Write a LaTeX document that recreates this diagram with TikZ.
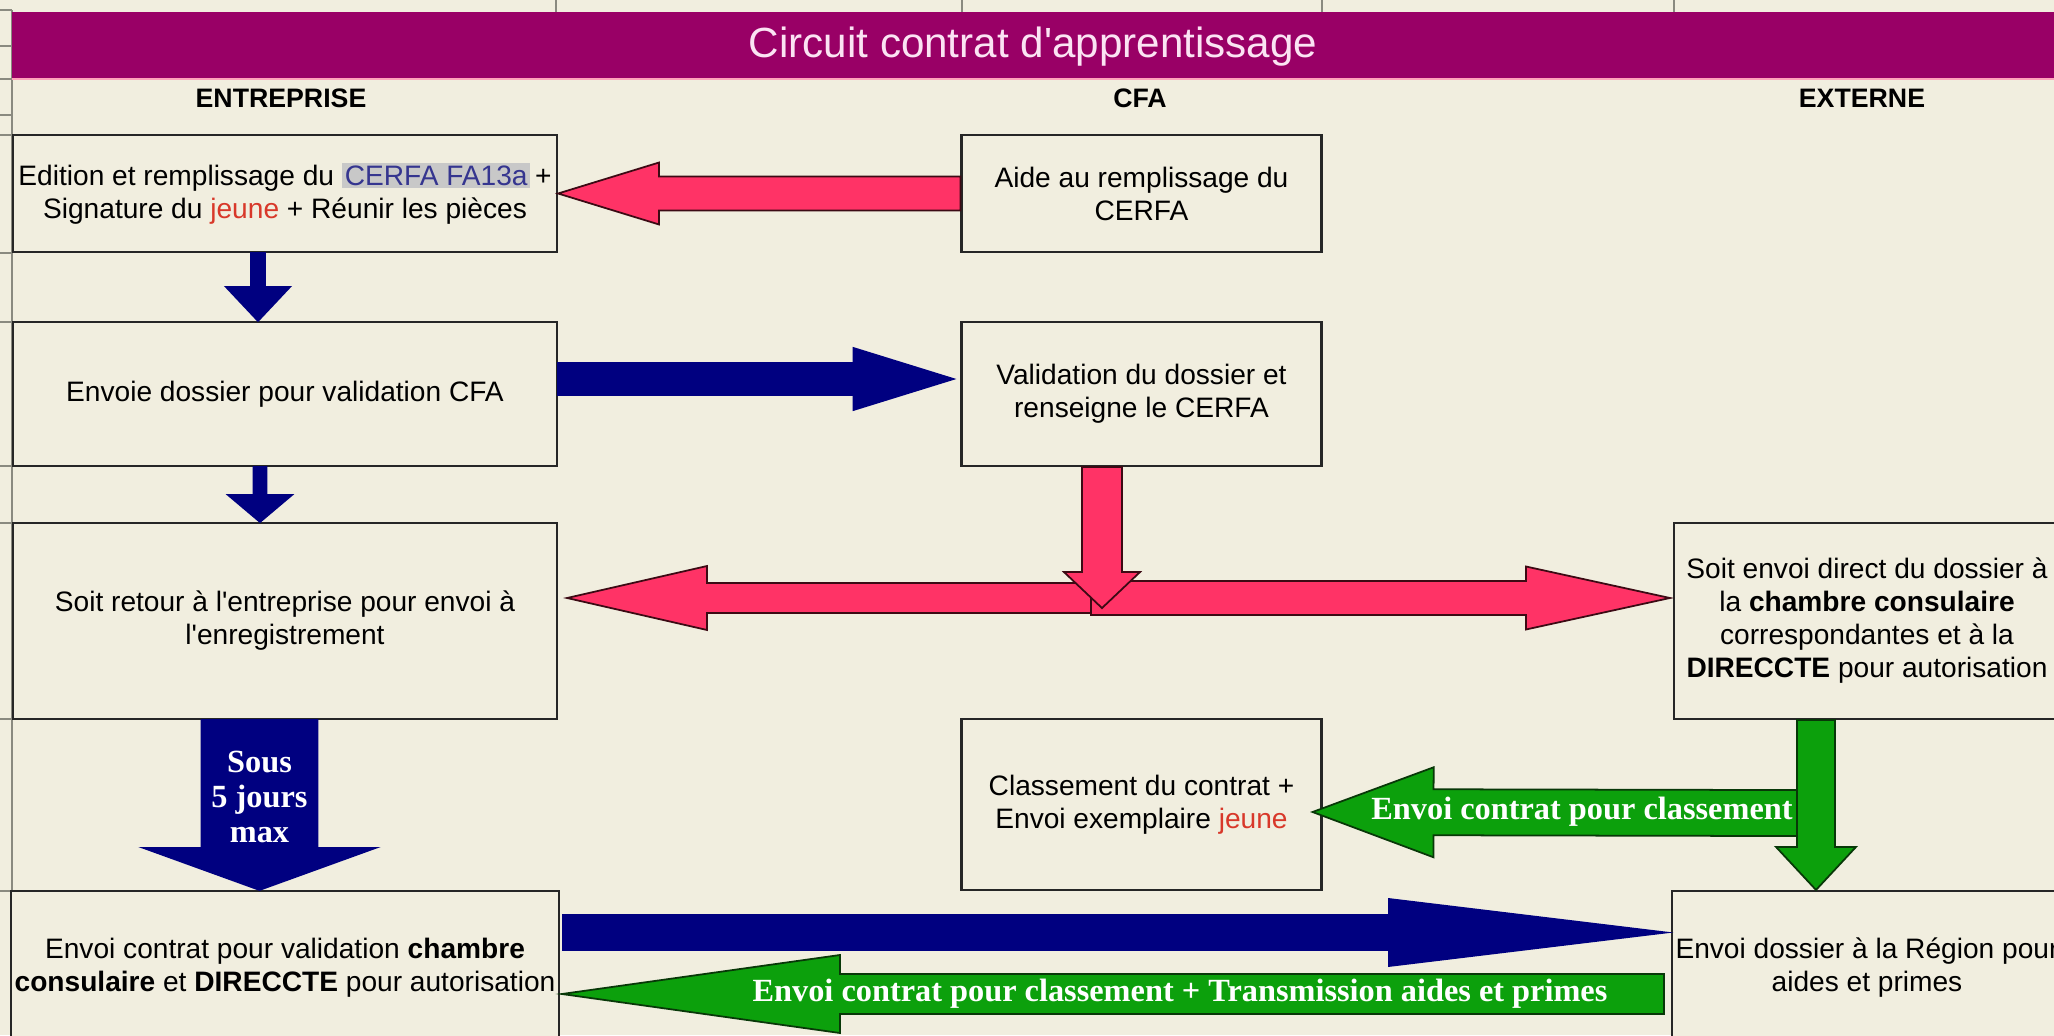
\documentclass[tikz,border=0pt]{standalone}
\usepackage{fontspec}
\setmainfont{Liberation Sans}
\newfontfamily\arrowfont{Liberation Serif}
\usetikzlibrary{calc}
\setlength{\fboxsep}{0.8pt}
\definecolor{sheet}{HTML}{F1EEDF}
\definecolor{plum}{HTML}{990066}
\definecolor{titletext}{HTML}{FBE3F3}
\definecolor{rose}{HTML}{FF3366}
\definecolor{roseline}{HTML}{3C0A14}
\definecolor{navy}{HTML}{000080}
\definecolor{leaf}{HTML}{0CA00C}
\definecolor{leafline}{HTML}{083808}
\definecolor{jeune}{HTML}{D8382A}
\definecolor{cerfa}{HTML}{35358F}
\definecolor{cerfabg}{HTML}{C8C8C8}
\definecolor{gridline}{HTML}{8A8A80}
% block arrow: style, start, tip, shaft half width : head half width : head length
\def\blockarrow[#1](#2)(#3)(#4:#5:#6){\coordinate (bn) at ($(#3)!#6!(#2)$);
	\filldraw[#1] ($(#2)!#4!90:(#3)$) -- ($(bn)!#4!90:(#3)$) -- ($(bn)!#5!90:(#3)$) -- (#3)
	-- ($(bn)!#5!-90:(#3)$) -- ($(bn)!#4!-90:(#3)$) -- ($(#2)!#4!-90:(#3)$) -- cycle;}

\begin{document}
\begin{tikzpicture}[
	box/.style={draw=black!85, fill=sheet, line width=0.6pt, align=center, inner sep=1pt, font=\fontsize{8}{9.4}\selectfont},
	colhead/.style={font=\bfseries\fontsize{7.6}{9}\selectfont},
	pinkarrow/.style={fill=rose, draw=roseline, line width=0.5pt},
	navyarrow/.style={fill=navy, draw=navy, line width=0.5pt},
	greenarrow/.style={fill=leaf, draw=leafline, line width=0.5pt},
	arrowtext/.style={text=white, font=\arrowfont\bfseries\fontsize{9.2}{10}\selectfont, align=center, inner sep=0pt}]
			%%%%% START %%%%%
			
			\useasboundingbox (0, 0) rectangle (20.54, 10.35);
			\fill[sheet] (0, 0) rectangle (20.54, 10.35);
			
			% sheet grid marks
			\draw[gridline, line width=0.5pt] (0.12, 0) -- (0.12, 10.25);
			\foreach \y in {10.25, 9.89, 9.56, 9.20, 9.00, 7.82, 7.13, 5.69, 5.12, 3.16, 1.44}
				\draw[gridline, line width=0.5pt] (0, \y) -- (0.12, \y);
			\foreach \x in {5.56, 9.62, 13.22, 16.74}
				\draw[gridline, line width=0.5pt] (\x, 10.35) -- (\x, 10.23);
			
			% title bar
			\fill[plum] (0.12, 10.23) rectangle (20.6, 9.56);
			\draw[rose!45, line width=0.8pt] (0.12, 9.56) -- (20.6, 9.56);
			\node[text=titletext, font=\fontsize{12}{14}\selectfont] (title) at (10.33, 9.88) {Circuit contrat d\textquotesingle apprentissage};
			
			\node[colhead] (hentreprise) at (2.81, 9.37) {ENTREPRISE};
			\node[colhead] (hcfa) at (11.40, 9.37) {CFA};
			\node[colhead] (hexterne) at (18.62, 9.37) {EXTERNE};
			
			% boxes
			\node[box, minimum width=5.44cm, minimum height=1.17cm] (a1) at (2.85, 8.415)
				{Edition et remplissage du \colorbox{cerfabg}{\textcolor{cerfa}{CERFA FA13a}}\,+\\Signature du \textcolor{jeune}{jeune} + Réunir les pièces};
			\node[box, minimum width=3.6cm, minimum height=1.17cm] (c1) at (11.415, 8.415)
				{Aide au remplissage du\\CERFA};
			\node[box, minimum width=5.44cm, minimum height=1.44cm] (a2) at (2.85, 6.41)
				{Envoie dossier pour validation CFA};
			\node[box, minimum width=3.6cm, minimum height=1.44cm] (c2) at (11.415, 6.41)
				{Validation du dossier et\\renseigne le CERFA};
			\node[box, minimum width=5.44cm, minimum height=1.96cm] (a3) at (2.85, 4.14)
				{Soit retour à l\textquotesingle entreprise pour envoi à\\l\textquotesingle enregistrement};
			\node[box, minimum width=3.86cm, minimum height=1.96cm] (e3) at (18.67, 4.14)
				{Soit envoi direct du dossier à\\la \textbf{chambre consulaire}\\correspondantes et à la\\\textbf{DIRECCTE} pour autorisation};
			\node[box, minimum width=3.6cm, minimum height=1.71cm] (c4) at (11.415, 2.305)
				{Classement du contrat +\\Envoi exemplaire \textcolor{jeune}{jeune}};
			\node[box, minimum width=5.44cm, minimum height=1.54cm] (a5) at (2.85, 0.67)
				{Envoi contrat pour validation \textbf{chambre}\\\textbf{consulaire} et \textbf{DIRECCTE} pour autorisation};
			\node[box, minimum width=3.86cm, minimum height=1.54cm] (e5) at (18.67, 0.67)
				{Envoi dossier à la Région pour\\aides et primes};
			
			% arrow ends
			\coordinate (v1a) at ($(a1.south)+(-0.27,0)$);
			\coordinate (v1b) at ($(a2.north)+(-0.27,0)$);
			\coordinate (h2a) at ($(a2.east)+(0,0.15)$);
			\coordinate (h2b) at ($(c2.west)+(-0.07,0.15)$);
			\coordinate (v2a) at ($(a2.south)+(-0.25,0)$);
			\coordinate (v2b) at ($(a3.north)+(-0.25,0)$);
			\coordinate (hub) at (10.91, 4.37);
			\coordinate (pl) at ($(a3.east)+(0.09,0.23)$);
			\coordinate (pr) at ($(e3.west)+(-0.03,0.23)$);
			\coordinate (v3a) at ($(c2.south)+(-0.395,0)$);
			\coordinate (v3b) at ($(v3a)+(0,-1.41)$);
			\coordinate (v4a) at ($(a3.south)+(-0.255,0)$);
			\coordinate (v4b) at ($(a5.north)+(-0.255,0)$);
			\coordinate (v5a) at ($(e3.south)+(-0.51,0)$);
			\coordinate (v5b) at ($(e5.north)+(-0.51,0)$);
			\coordinate (gjoin) at ($(v5a)+(-0.19,-0.93)$);
			\coordinate (c4g) at ($(c4.east)+(-0.1,-0.075)$);
			\coordinate (h5a) at ($(a5.east)+(0.03,0.355)$);
			\coordinate (h5b) at ($(e5.west)+(-0.05,0.355)$);
			\coordinate (h6a) at ($(e5.west)+(-0.07,-0.26)$);
			\coordinate (h6b) at ($(a5.east)+(0.02,-0.26)$);
			
			% arrows
			\blockarrow[pinkarrow](c1.west)(a1.east)(0.17cm:0.31cm:1.01cm)
			\blockarrow[navyarrow](v1a)(v1b)(0.07cm:0.32cm:0.34cm)
			\blockarrow[navyarrow](h2a)(h2b)(0.16cm:0.31cm:1.0cm)
			\blockarrow[navyarrow](v2a)(v2b)(0.065cm:0.32cm:0.27cm)
			\blockarrow[pinkarrow](hub)(pl)(0.15cm:0.32cm:1.40cm)
			\blockarrow[pinkarrow](hub)(pr)(0.17cm:0.315cm:1.44cm)
			\blockarrow[pinkarrow](v3a)(v3b)(0.20cm:0.38cm:0.36cm)
			\blockarrow[navyarrow](v4a)(v4b)(0.58cm:1.16cm:0.42cm)
			\blockarrow[greenarrow](gjoin)(c4g)(0.23cm:0.45cm:1.21cm)
			\blockarrow[greenarrow](v5a)(v5b)(0.19cm:0.40cm:0.43cm)
			\blockarrow[navyarrow](h5a)(h5b)(0.175cm:0.335cm:2.77cm)
			\blockarrow[greenarrow](h6a)(h6b)(0.20cm:0.39cm:2.78cm)
			
			% arrow labels
			\node[arrowtext] (sous) at (2.595, 2.38) {Sous\\5 jours\\max};
			\node[arrowtext] (gclass) at (15.82, 2.23) {Envoi contrat pour classement};
			\node[arrowtext] (gbottom) at (11.80, 0.41) {Envoi contrat pour classement + Transmission aides et primes};
			
			%%%%% END %%%%%
\end{tikzpicture}
\end{document}
